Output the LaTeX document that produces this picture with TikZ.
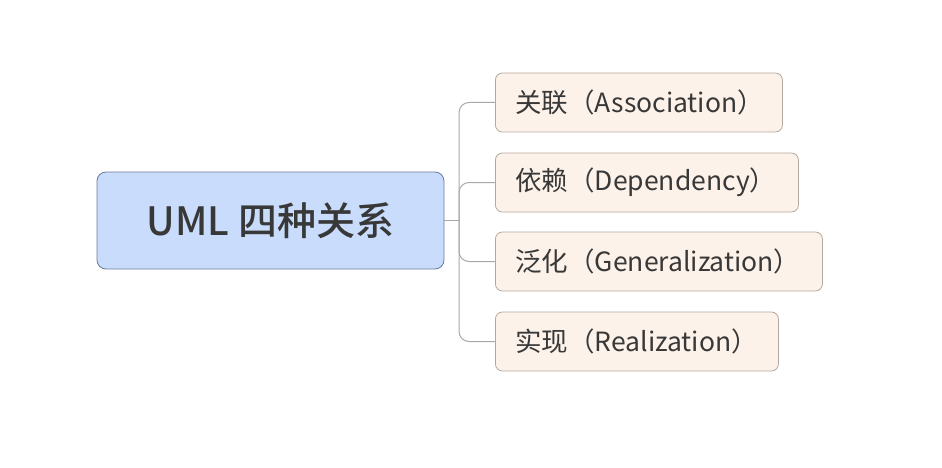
\documentclass[tikz,border=0pt]{standalone}
\usepackage{fontspec}
\setmainfont{Noto Sans CJK SC}
\newfontfamily\rootfont{Noto Sans CJK SC Medium}
\usepackage{tikz}
\usetikzlibrary{positioning}
\definecolor{rootfill}{HTML}{C9DCFC}
\definecolor{rootline}{HTML}{6B7B9B}
\definecolor{leaffill}{HTML}{FDF2E9}
\definecolor{leafline}{HTML}{B4A89E}
\definecolor{linkgray}{HTML}{A8A8A8}
\definecolor{ink}{HTML}{383838}

\begin{document}
\begin{tikzpicture}[x=1pt, y=-1pt,
  root/.style={draw=rootline, fill=rootfill, rounded corners=9pt, minimum width=347pt, minimum height=97pt, text=ink, font=\rootfont\fontsize{39}{46}\selectfont, line width=0.8pt},
  leaf/.style={draw=leafline, fill=leaffill, rounded corners=7pt, anchor=west, minimum height=59pt, inner xsep=20pt, align=left, text=ink, font=\fontsize{26.5}{32}\selectfont, line width=0.8pt},
  link/.style={draw=linkgray, line width=1pt, rounded corners=10pt}]
  \useasboundingbox (0,0) rectangle (942,468);
  \node[root] (root) at (270.5,220.5) {UML 四种关系};
  \coordinate (hub) at (459,220.5);
  \foreach \i/\y/\w/\t in {1/102.5/247/关联（Association）, 2/182.5/263/依赖（Dependency）, 3/261.5/287/泛化（Generalization）, 4/341.5/243/实现（Realization）}
    \node[leaf, text width=\w pt] (b\i) at (495,\y) {\t};
  \draw[link] (root.east) -- (hub);
  \foreach \i in {1,...,4} \draw[link] (hub) |- (b\i.west);
\end{tikzpicture}
\end{document}
